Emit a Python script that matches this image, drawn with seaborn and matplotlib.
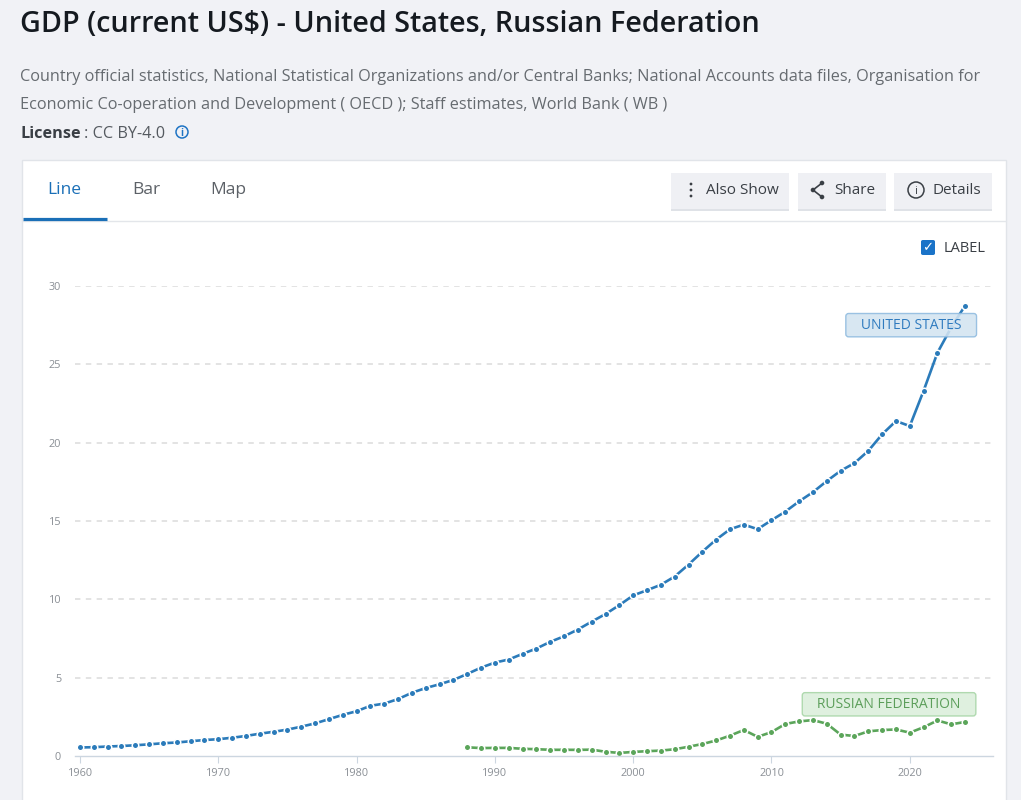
import numpy as np
import pandas as pd
import matplotlib
matplotlib.use("Agg")
import matplotlib.pyplot as plt
from matplotlib.patches import Rectangle, FancyBboxPatch, Ellipse
from matplotlib.lines import Line2D
import seaborn as sns

# GDP, current US$ trillions
us_years = list(range(1960, 2025))
us_gdp = [0.543, 0.563, 0.605, 0.638, 0.686, 0.744, 0.815, 0.862, 0.943, 1.020,
          1.073, 1.165, 1.280, 1.425, 1.545, 1.684, 1.873, 2.082, 2.352, 2.627,
          2.857, 3.207, 3.344, 3.634, 4.037, 4.339, 4.580, 4.855, 5.236, 5.642,
          5.963, 6.158, 6.520, 6.859, 7.287, 7.640, 8.073, 8.578, 9.063, 9.631,
          10.251, 10.582, 10.929, 11.457, 12.217, 13.039, 13.816, 14.474, 14.770, 14.478,
          15.049, 15.600, 16.254, 16.843, 17.551, 18.206, 18.695, 19.477, 20.533, 21.381,
          21.060, 23.315, 25.744, 27.360, 28.750]
ru_years = list(range(1988, 2025))
ru_gdp = [0.555, 0.506, 0.517, 0.518, 0.460, 0.435, 0.395, 0.396, 0.392, 0.405,
          0.271, 0.196, 0.260, 0.307, 0.345, 0.430, 0.591, 0.764, 0.990, 1.300,
          1.661, 1.223, 1.525, 2.046, 2.208, 2.292, 2.059, 1.363, 1.277, 1.574,
          1.657, 1.693, 1.489, 1.837, 2.266, 2.021, 2.174]

x_ticks = [1960, 1970, 1980, 1990, 2000, 2010, 2020]
y_ticks = [0, 5, 10, 15, 20, 25, 30]

US_COL = "#2b7bba"
RU_COL = "#5ba55a"

sns.set_style("white")
plt.rcParams["font.family"] = ["Open Sans", "DejaVu Sans"]

W, H = 1021, 800
fig = plt.figure(figsize=(W / 100, H / 100), dpi=100)
fig.patch.set_facecolor("#f1f2f6")


def fx(x):
    return x / W


def fy(y):
    return 1 - y / H


def circle(x, y, r, **kw):
    # round circle given in pixels
    fig.patches.append(Ellipse((fx(x), fy(y)), 2 * r / W, 2 * r / H, transform=fig.transFigure, **kw))


# header texts
fig.text(fx(20), fy(25), "GDP (current US$) - United States, Russian Federation",
         fontsize=20.7, fontweight="semibold", color="#151a20", va="center", ha="left")
fig.text(fx(20), fy(77), "Country official statistics, National Statistical Organizations and/or Central Banks; "
         "National Accounts data files, Organisation for",
         fontsize=11.7, color="#666b70", va="center", ha="left")
fig.text(fx(20), fy(105), "Economic Co-operation and Development ( OECD ); Staff estimates, World Bank ( WB )",
         fontsize=11.7, color="#666b70", va="center", ha="left")
fig.text(fx(20), fy(134), "License", fontsize=11.7, fontweight="bold", color="#3a3f45", va="center", ha="left")
fig.text(fx(84), fy(134), ": CC BY-4.0", fontsize=11.7, color="#555a60", va="center", ha="left")
circle(182, 132, 6, facecolor="none", edgecolor="#1f74c4", lw=1.1)
fig.text(fx(182), fy(133), "i", fontsize=7, color="#1f74c4", va="center", ha="center", fontweight="bold")

# white card
fig.patches.append(Rectangle((fx(22), fy(805)), (1006 - 22) / W, (805 - 160) / H,
                             transform=fig.transFigure, facecolor="white", edgecolor="#e1e4e9", lw=1))
fig.lines.append(Line2D([fx(22), fx(1006)], [fy(221), fy(221)], transform=fig.transFigure,
                        color="#e3e6ea", lw=1))
fig.lines.append(Line2D([fx(23), fx(107)], [fy(218.5), fy(218.5)], transform=fig.transFigure,
                        color="#1a6fb7", lw=2.3, solid_capstyle="butt"))
fig.text(fx(64), fy(190), "Line", fontsize=12.5, color="#1a6fb7", va="center", ha="center")
fig.text(fx(146), fy(190), "Bar", fontsize=12.5, color="#5c6167", va="center", ha="center")
fig.text(fx(228), fy(190), "Map", fontsize=12.5, color="#5c6167", va="center", ha="center")

# buttons
for x0, x1, label, tx in [(671, 789, "Also Show", 706), (798, 886, "Share", 834), (894, 992, "Details", 933)]:
    fig.patches.append(Rectangle((fx(x0), fy(211)), (x1 - x0) / W, 2 / H, transform=fig.transFigure,
                                 facecolor="#dfe2e7", edgecolor="none"))
    fig.patches.append(Rectangle((fx(x0), fy(209)), (x1 - x0) / W, 36 / H, transform=fig.transFigure,
                                 facecolor="#eff0f4", edgecolor="none"))
    fig.text(fx(tx), fy(191), label, fontsize=11, color="#3a3f45", va="center", ha="left")
# vertical ellipsis
for yy in (184, 190, 196):
    circle(691, yy, 1.4, facecolor="#3a3f45", edgecolor="none")
# share icon
pts = [(822, 183), (813, 190), (822, 197)]
fig.lines.append(Line2D([fx(p[0]) for p in pts], [fy(p[1]) for p in pts], transform=fig.transFigure,
                        color="#3a3f45", lw=1.2))
for p in pts:
    circle(p[0], p[1], 2.3, facecolor="#3a3f45", edgecolor="none")
# details icon
circle(916, 190, 8, facecolor="none", edgecolor="#3a3f45", lw=1.1)
fig.text(fx(916), fy(191), "i", fontsize=8, color="#3a3f45", va="center", ha="center")

# label checkbox
fig.patches.append(FancyBboxPatch((fx(921), fy(255)), 14 / W, 15 / H, boxstyle="round,pad=0,rounding_size=0.002",
                                  transform=fig.transFigure, facecolor="#1a73c8", edgecolor="none"))
fig.text(fx(928), fy(248), "\u2713", fontsize=9.5, color="white", va="center", ha="center",
         fontweight="bold", family=["DejaVu Sans"])
fig.text(fx(944), fy(249), "LABEL", fontsize=10.5, color="#3a3f45", va="center", ha="left")

# chart axes
ax = fig.add_axes([fx(75), fy(756), (993 - 75) / W, (756 - 286) / H])
ax.set_zorder(3)
ax.set_facecolor("none")
ax.set_xlim(1960 - 5 / 13.83, 1960 + (993 - 80) / 13.83)
ax.set_ylim(0, 30)

for v in y_ticks[1:]:
    ax.axhline(v, color="#e0e0e0", lw=1.3, ls=(0, (3, 3)), zorder=0)

line_kw = dict(lw=1.9, marker="o", markersize=4.7, markeredgecolor="white", markeredgewidth=1.1,
               legend=False, clip_on=False)
df_us = pd.DataFrame({"year": us_years, "gdp": us_gdp})
df_ru = pd.DataFrame({"year": ru_years, "gdp": ru_gdp})
sns.lineplot(data=df_us, x="year", y="gdp", ax=ax, color=US_COL, **line_kw)
sns.lineplot(data=df_ru, x="year", y="gdp", ax=ax, color=RU_COL, **line_kw)

for s in ["top", "right", "left"]:
    ax.spines[s].set_visible(False)
ax.spines["bottom"].set_color("#ccd6e0")
ax.spines["bottom"].set_linewidth(1)

ax.set_xticks(x_ticks)
ax.set_xticklabels([str(t) for t in x_ticks])
ax.set_yticks(y_ticks)
ax.set_yticklabels([str(t) for t in y_ticks])
ax.tick_params(axis="x", length=5, color="#ccd6e0", labelsize=7.8, labelcolor="#8a8f95", pad=4, bottom=True)
ax.tick_params(axis="y", length=0, labelsize=7.8, labelcolor="#8a8f95", pad=10)
ax.set_xlabel("")
ax.set_ylabel("")
ax.grid(False)

# series labels
ax.text(2020.1, 27.5, "   UNITED STATES   ", fontsize=10, color="#2f7bbf", ha="center", va="center", zorder=5,
        bbox=dict(boxstyle="round,pad=0.3,rounding_size=0.2", facecolor="#d3e4f1", edgecolor="#8fbbdf",
                  lw=1, alpha=0.88))
ax.text(2018.5, 3.3, "   RUSSIAN FEDERATION   ", fontsize=10, color="#5c9e5a", ha="center", va="center", zorder=5,
        bbox=dict(boxstyle="round,pad=0.3,rounding_size=0.2", facecolor="#dcefdc", edgecolor="#a9d6a8",
                  lw=1, alpha=0.9))

fig.savefig("out.png", dpi=100, facecolor=fig.get_facecolor())
